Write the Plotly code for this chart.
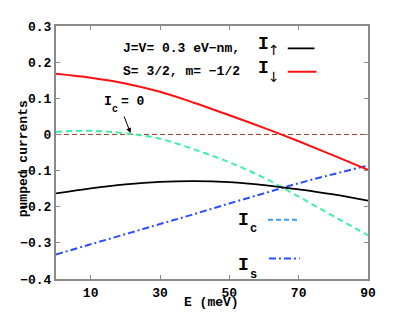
import plotly.graph_objects as go

# ---- data ----
energy = [0, 10, 20, 30, 40, 50, 60, 70, 80, 90]
i_up = [-0.163, -0.149, -0.138, -0.131, -0.129, -0.132, -0.140, -0.152, -0.166, -0.183]
i_down = [0.168, 0.157, 0.141, 0.118, 0.087, 0.053, 0.018, -0.019, -0.058, -0.098]
i_c = [0.007, 0.010, 0.003, -0.012, -0.042, -0.077, -0.120, -0.172, -0.226, -0.279]
i_s = [-0.332, -0.304, -0.276, -0.248, -0.220, -0.191, -0.163, -0.135, -0.110, -0.086]
zero_ref = [0, 0]
zero_x = [0, 90]

x_ticks = [10, 30, 50, 70, 90]
y_ticks = [-0.4, -0.3, -0.2, -0.1, 0, 0.1, 0.2, 0.3]
y_ticktext = ["\u22120.4", "\u22120.3", "\u22120.2", "\u22120.1", "0", "0.1", "0.2", "0.3"]

MONO = "Liberation Mono"
fig = go.Figure()

fig.add_trace(go.Scatter(x=zero_x, y=zero_ref, mode="lines",
                         line=dict(color="#a33a2a", width=1, dash="5px,3px")))
fig.add_trace(go.Scatter(x=energy, y=i_c, mode="lines", line_shape="spline",
                         line=dict(color="#40f0a4", width=2, dash="6px,4px")))
fig.add_trace(go.Scatter(x=energy, y=i_s, mode="lines", line_shape="spline",
                         line=dict(color="#2a4dff", width=2, dash="7px,3px,2px,3px")))
fig.add_trace(go.Scatter(x=energy, y=i_up, mode="lines", line_shape="spline",
                         line=dict(color="#000000", width=1.8)))
fig.add_trace(go.Scatter(x=energy, y=i_down, mode="lines", line_shape="spline",
                         line=dict(color="#ff1010", width=2)))

axis_common = dict(showline=True, mirror="ticks", linecolor="#8a8a8a", linewidth=2,
                   ticks="inside", ticklen=4, tickcolor="#8a8a8a", tickwidth=1,
                   showgrid=False, zeroline=False,
                   tickfont=dict(family=MONO, size=13, color="#000", weight="bold"))

# page body adds ~8px offset; plot area placed at screen x 53..368, y 24..284
fig.update_layout(
    width=391, height=305,
    margin=dict(l=45, r=31, t=16, b=29),
    paper_bgcolor="white", plot_bgcolor="white",
    showlegend=False,
    xaxis=dict(range=[0, 90], tickvals=x_ticks, **axis_common),
    yaxis=dict(range=[-0.4, 0.3], tickvals=y_ticks, ticktext=y_ticktext, **axis_common),
)

txt = dict(family=MONO, size=13, color="#000", weight="bold")
big = dict(family=MONO, size=18, color="#000", weight="bold")
sub = dict(family=MONO, size=12, color="#000", weight="bold")
arr = dict(family="DejaVu Sans", size=14, color="#000")

def px(xp):
    return (xp - 53) / 315

def py(yp):
    return (284 - yp) / 260

def ann(x, y, text, font, xanchor="center", yanchor="middle"):
    fig.add_annotation(x=x, y=y, xref="paper", yref="paper", text=text, showarrow=False,
                       font=font, xanchor=xanchor, yanchor=yanchor)

ann(px(119), py(47), "J=V= 0.3 eV\u2212nm,", txt, xanchor="left")
ann(px(119), py(71), "S= 3/2, m= \u22121/2", txt, xanchor="left")
ann(px(262), py(43), "I", big)
ann(px(273), py(49), "\u2191", arr)
ann(px(262), py(67), "I", big)
ann(px(273), py(76), "\u2193", arr)

ann(px(242), py(223), "I", big)
ann(px(252), py(233), "c", sub)
ann(px(242), py(270), "I", big)
ann(px(252), py(280), "s", sub)

# I_c = 0 label with arrow
ann(px(105.7), py(101.7), "I", txt)
ann(px(113), py(109.5), "c", dict(family=MONO, size=10, color="#000", weight="bold"))
ann(px(117), py(101.7), "= 0", txt, xanchor="left")
fig.add_annotation(x=21.5, y=0.004, xref="x", yref="y", ax=-7, ay=-18,
                   showarrow=True, arrowhead=2, arrowsize=1, arrowwidth=1, arrowcolor="#000", text="")

# axis titles
ann(px(209.5), py(308), "E (meV)", txt)
fig.add_annotation(x=px(10), y=py(160), xref="paper", yref="paper", text="pumped currents",
                   showarrow=False, textangle=-90, font=txt)

# legend sample lines
def lshape(x0, x1, y, color, dash, width=2):
    fig.add_shape(type="line", xref="paper", yref="paper", x0=px(x0), x1=px(x1), y0=py(y), y1=py(y),
                  line=dict(color=color, dash=dash, width=width))

lshape(287, 314, 47, "#000000", "solid", 1.8)
lshape(287, 316, 71, "#ff1010", "solid", 2)
lshape(267, 297, 223, "#3c9cf0", "5px,3px", 2)
lshape(268, 299, 263, "#2a4dff", "7px,3px,2px,3px", 2)

fig.write_html("out.html")
